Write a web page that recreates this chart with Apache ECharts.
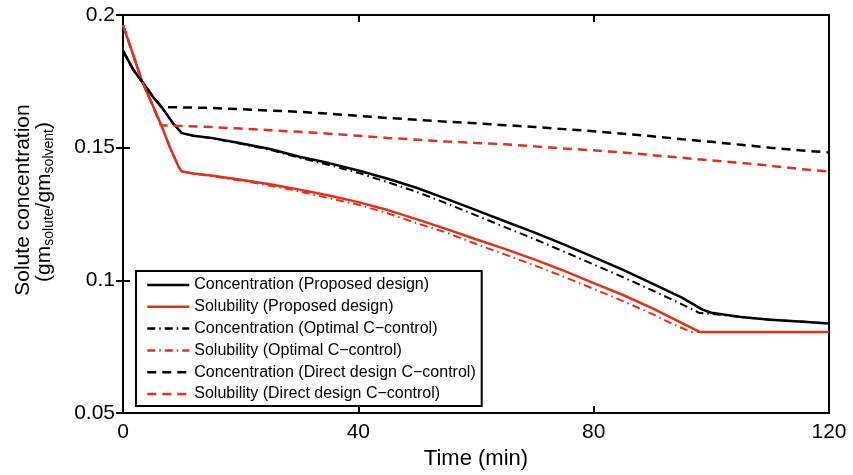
<!DOCTYPE html>
<html>
<head>
<meta charset="utf-8">
<script src="https://cdn.jsdelivr.net/npm/echarts@6/dist/echarts.min.js"></script>
<style>
html,body{margin:0;padding:0;background:#fff;}
#chart{width:853px;height:475px;}
</style>
</head>
<body>
<div id="chart"></div>
<script>
// ---- data (time in min, concentration in gm_solute/gm_solvent) ----
const xTicks = [0, 40, 80, 120];
const yTicks = [0.05, 0.1, 0.15, 0.2];

const concProposed = [[0,0.1865],[1.75,0.1794],[3.2,0.1750],[5.15,0.1690],[6.6,0.1652],[8.5,0.1592],[10,0.1555],[12,0.1545],[15,0.1537],[20,0.1517],[25,0.1495],[30,0.1466],[35,0.1442],[40,0.1414],[45,0.1383],[50,0.1348],[55,0.1307],[60,0.1265],[65,0.1222],[70,0.1180],[75,0.1135],[80,0.1088],[85,0.1040],[90,0.0988],[95,0.0935],[98.5,0.0890],[100,0.0878],[105,0.0862],[110,0.0852],[115,0.0845],[120,0.0838]];

const solProposed = [[0,0.1962],[1.5,0.1865],[3.2,0.1752],[5,0.1662],[6.5,0.1585],[8,0.1500],[9.5,0.1425],[10,0.1410],[12,0.1403],[15,0.1395],[20,0.1379],[25,0.1362],[30,0.1342],[35,0.1320],[40,0.1295],[45,0.1265],[50,0.1230],[55,0.1193],[60,0.1155],[65,0.1118],[70,0.1078],[75,0.1036],[80,0.0990],[85,0.0945],[90,0.0895],[94,0.0850],[98,0.0806],[100,0.0806],[110,0.0806],[120,0.0806]];

const concOptimal = [[0,0.1865],[1.75,0.1794],[3.2,0.1750],[5.15,0.1690],[6.6,0.1652],[8.5,0.1592],[10,0.1555],[12,0.1545],[15,0.1536],[20,0.1515],[25,0.1492],[30,0.1462],[35,0.1435],[40,0.1405],[45,0.1370],[50,0.1333],[55,0.1290],[60,0.1245],[65,0.1200],[70,0.1155],[75,0.1108],[80,0.1060],[85,0.1012],[90,0.0962],[95,0.0910],[98,0.0877],[100,0.0874],[105,0.0862],[110,0.0852],[115,0.0845],[120,0.0838]];

const solOptimal = [[0,0.1962],[1.5,0.1865],[3.2,0.1752],[5,0.1662],[6.5,0.1585],[8,0.1500],[9.5,0.1425],[10,0.1410],[12,0.1402],[15,0.1393],[20,0.1376],[25,0.1357],[30,0.1335],[35,0.1310],[40,0.1285],[45,0.1253],[50,0.1215],[55,0.1180],[60,0.1137],[65,0.1097],[70,0.1056],[75,0.1013],[80,0.0968],[85,0.0922],[90,0.0873],[93,0.0840],[96.5,0.0806],[100,0.0806],[110,0.0806],[120,0.0806]];

const concDirect = [[0,0.1865],[1.75,0.1794],[3.2,0.1750],[5.15,0.1690],[6.6,0.1652],[10,0.1652],[15,0.1650],[20,0.1645],[25,0.1640],[30,0.1635],[35,0.1628],[40,0.1620],[45,0.1612],[50,0.1605],[55,0.1598],[60,0.1592],[65,0.1585],[70,0.1578],[75,0.1570],[80,0.1562],[85,0.1553],[90,0.1543],[95,0.1532],[100,0.1522],[105,0.1511],[110,0.1500],[115,0.1490],[120,0.1482]];

const solDirect = [[0,0.1962],[1.5,0.1865],[3.2,0.1752],[5,0.1662],[6.4,0.1585],[10,0.1582],[15,0.1578],[20,0.1572],[25,0.1566],[30,0.1560],[35,0.1553],[40,0.1545],[45,0.1537],[50,0.1530],[55,0.1523],[60,0.1518],[65,0.1513],[70,0.1505],[75,0.1497],[80,0.1490],[85,0.1482],[90,0.1472],[95,0.1462],[100,0.1452],[105,0.1443],[110,0.1432],[115,0.1420],[120,0.1410]];

const seriesNames = [
  'Concentration (Proposed design)',
  'Solubility (Proposed design)',
  'Concentration (Optimal C\u2212control)',
  'Solubility (Optimal C\u2212control)',
  'Concentration (Direct design C\u2212control)',
  'Solubility (Direct design C\u2212control)'
];
const seriesData = [concProposed, solProposed, concOptimal, solOptimal, concDirect, solDirect];

// ---- styles ----
const BLACK = '#000000';
const RED = '#e3301a';
const FONT = "'Liberation Sans', Arial, Helvetica, sans-serif";
const styles = [
  {color: BLACK, width: 2.5, type: 'solid'},
  {color: RED,   width: 2.5, type: 'solid'},
  {color: BLACK, width: 2,   type: [8, 4, 1.5, 4]},
  {color: RED,   width: 2,   type: [8, 4, 1.5, 4]},
  {color: BLACK, width: 2.5, type: [9, 6]},
  {color: RED,   width: 2.5, type: [9, 6]}
];

const chart = echarts.init(document.getElementById('chart'), null, {renderer: 'canvas'});

const axisCommon = {
  splitLine: {show: false},
  axisLine: {show: false},
  axisTick: {show: true, inside: true, length: 7, lineStyle: {color: BLACK, width: 2}}
};

const option = {
  animation: false,
  backgroundColor: '#fff',
  grid: {left: 123, right: 24, top: 15, bottom: 59, show: true, borderColor: BLACK, borderWidth: 2, backgroundColor: 'transparent'},
  xAxis: [
    Object.assign({}, axisCommon, {
      type: 'value', min: xTicks[0], max: xTicks[xTicks.length - 1], interval: xTicks[1] - xTicks[0],
      position: 'bottom',
      axisLabel: {color: BLACK, fontSize: 21, fontFamily: FONT, margin: 9},
      name: 'Time (min)', nameLocation: 'middle', nameGap: 29,
      nameTextStyle: {color: BLACK, fontSize: 22, fontFamily: FONT}
    }),
    Object.assign({}, axisCommon, {
      type: 'value', min: xTicks[0], max: xTicks[xTicks.length - 1], interval: xTicks[1] - xTicks[0],
      position: 'top', axisLabel: {show: false}
    })
  ],
  yAxis: [
    Object.assign({}, axisCommon, {
      type: 'value', min: yTicks[0], max: yTicks[yTicks.length - 1], interval: yTicks[1] - yTicks[0],
      position: 'left',
      axisLabel: {color: BLACK, fontSize: 21, fontFamily: FONT, margin: 8}
    }),
    Object.assign({}, axisCommon, {
      type: 'value', min: yTicks[0], max: yTicks[yTicks.length - 1], interval: yTicks[1] - yTicks[0],
      position: 'right', axisLabel: {show: false}
    })
  ],
  legend: {
    orient: 'vertical',
    left: 136, top: 271,
    padding: [6, 6, 4, 10],
    itemWidth: 42, itemHeight: 16, itemGap: 5.8,
    backgroundColor: '#fff',
    borderColor: BLACK, borderWidth: 2, borderRadius: 0,
    itemStyle: {opacity: 0},
    lineStyle: {width: 2.5},
    textStyle: {color: BLACK, fontSize: 16, fontFamily: FONT, lineHeight: 16},
    data: seriesNames
  },
  graphic: [
    {
      type: 'text', x: 23, y: 200, rotation: Math.PI / 2,
      style: {text: 'Solute concentration', fill: BLACK, font: '21px ' + FONT, align: 'center', verticalAlign: 'middle'}
    },
    {
      type: 'text', x: 44, y: 202, rotation: Math.PI / 2,
      style: {
        text: '{m|(gm}{s|solute}{m|/gm}{s|solvent}{m|)}',
        fill: BLACK, align: 'center', verticalAlign: 'middle',
        rich: {
          m: {fontSize: 21, fontFamily: FONT, lineHeight: 24, verticalAlign: 'middle', fill: BLACK},
          s: {fontSize: 14, fontFamily: FONT, lineHeight: 12, verticalAlign: 'bottom', fill: BLACK}
        }
      }
    }
  ],
  series: seriesNames.map((name, i) => ({
    name: name,
    type: 'line',
    xAxisIndex: 0, yAxisIndex: 0,
    data: seriesData[i],
    symbol: 'none',
    smooth: false,
    lineStyle: {color: styles[i].color, width: styles[i].width, type: styles[i].type},
    itemStyle: {color: styles[i].color},
    z: 2 + i
  }))
};
chart.setOption(option);
</script>
</body>
</html>
